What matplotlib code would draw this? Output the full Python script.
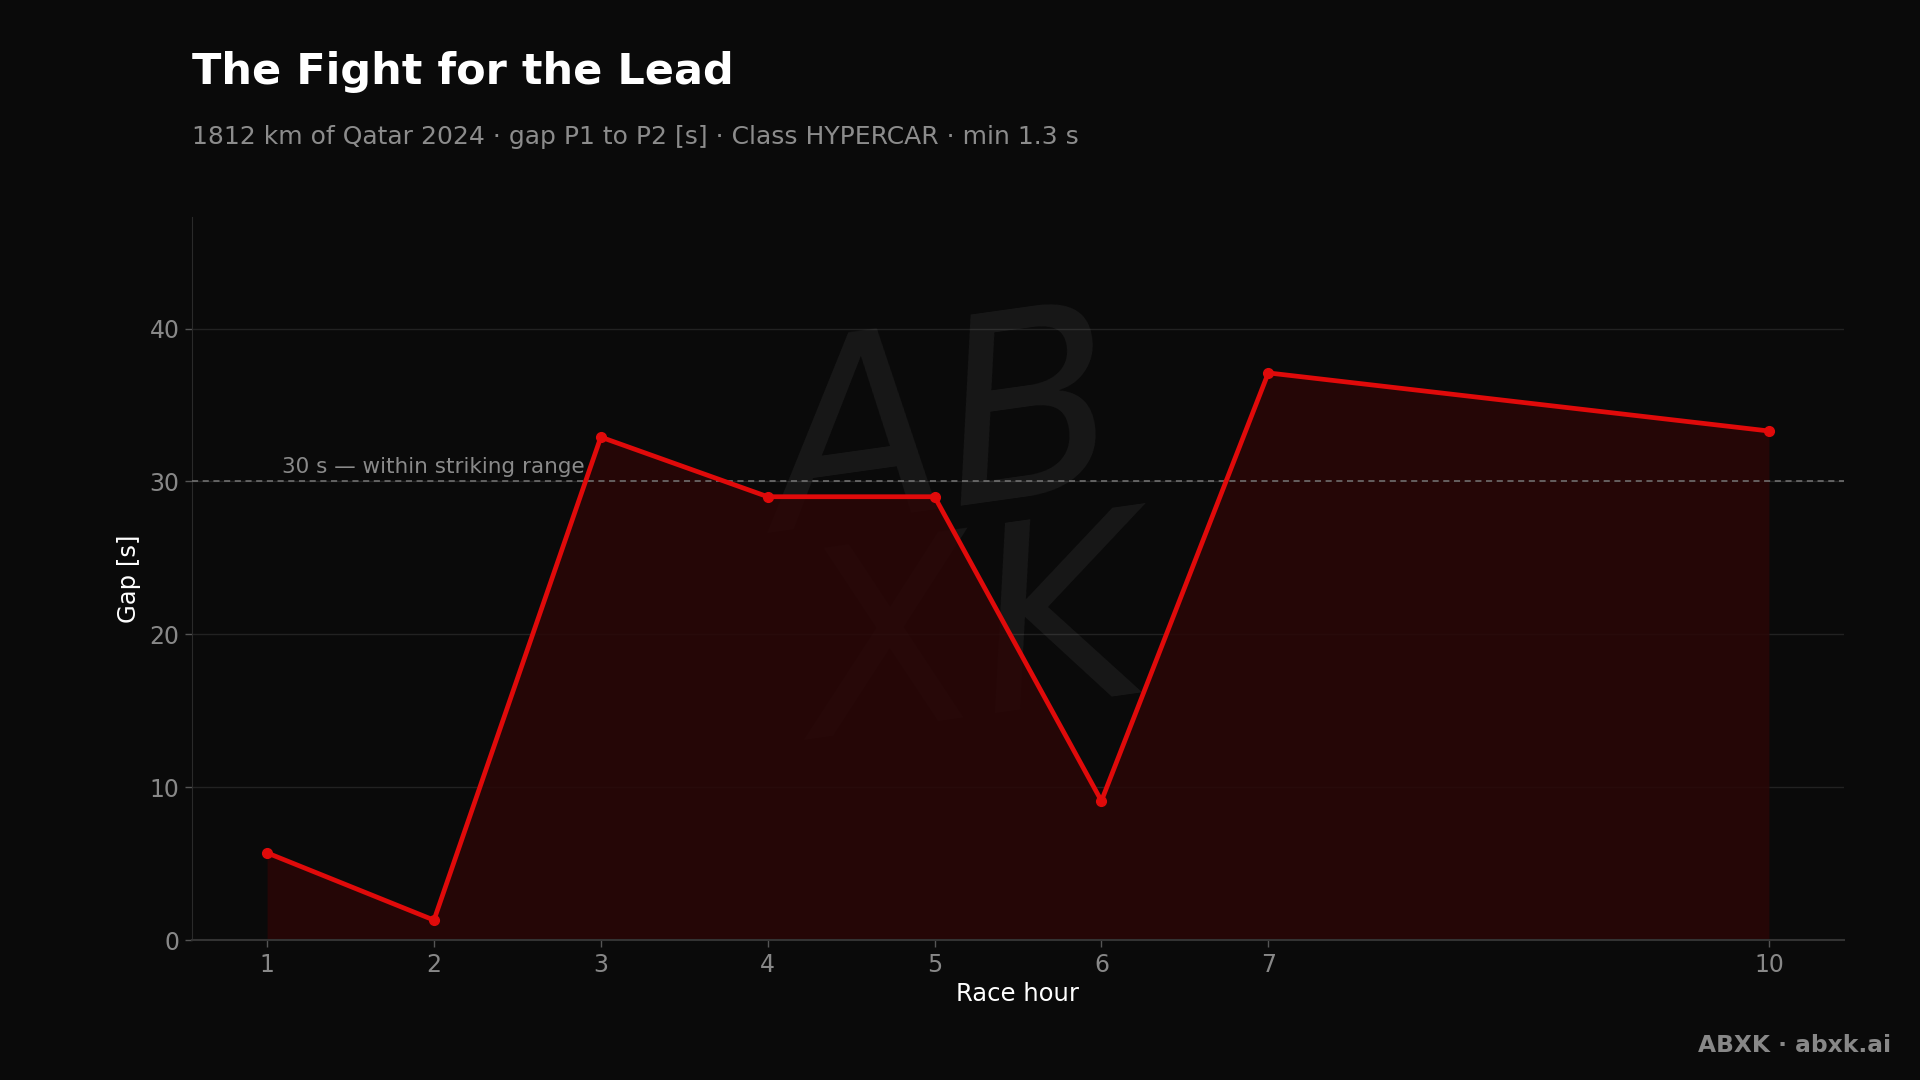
import matplotlib
matplotlib.use("Agg")
import matplotlib.pyplot as plt

# Data
hours = [1, 2, 3, 4, 5, 6, 7, 10]
gap_s = [5.7, 1.3, 32.9, 29.0, 29.0, 9.1, 37.1, 33.3]
y_ticks = [0, 10, 20, 30, 40]
threshold = 30

title = "The Fight for the Lead"
subtitle = "1812 km of Qatar 2024 · gap P1 to P2 [s] · Class HYPERCAR · min 1.3 s"
threshold_label = "30 s — within striking range"

BG = "#0a0a0a"
RED = "#e00a0a"

plt.rcParams['font.family'] = ['DejaVu Sans']
fig = plt.figure(figsize=(19.2, 10.8), dpi=100, facecolor=BG)
ax = fig.add_axes([192/1920, 1 - 940/1080, (1844-192)/1920, (940-217)/1080])
ax.set_facecolor(BG)

# watermark
ax.text(0.465, 0.55, "AB\nXK", transform=ax.transAxes, ha="center", va="center",
        fontsize=185, fontstyle="italic", color="#ffffff", alpha=0.06,
        rotation=8, linespacing=0.8, zorder=1)

ax.fill_between(hours, gap_s, 0, color="#2a0606", alpha=0.85, zorder=2, linewidth=0)
ax.plot(hours, gap_s, color=RED, lw=3.4, marker="o", ms=7, zorder=4, solid_joinstyle="round")

ax.axhline(threshold, color="#777777", lw=1.1, ls=(0, (4, 3)), zorder=3)
ax.text(1.09, threshold + 0.3, threshold_label, color="#8a8a8a", fontsize=15.5,
        ha="left", va="bottom", zorder=5)

ax.set_xlim(0.55, 10.45)
ax.set_ylim(0, 47.3)
ax.set_xticks(hours)
ax.set_yticks(y_ticks)
ax.grid(axis="y", color="#222222", lw=1)
ax.set_axisbelow(True)

for s in ["top", "right"]:
    ax.spines[s].set_visible(False)
ax.spines["left"].set_color("#2a2a2a")
ax.spines["bottom"].set_color("#333333")
ax.spines["bottom"].set_linewidth(1.5)
ax.tick_params(colors="#888888", labelsize=17, length=5, width=1, pad=4)
ax.tick_params(axis="both", color="#555555")

ax.set_xlabel("Race hour", color="#ffffff", fontsize=17.5, labelpad=4)
ax.set_ylabel("Gap [s]", color="#ffffff", fontsize=17.5, labelpad=6)

fig.text(192/1920, 1 - 72/1080, title, color="#ffffff", fontsize=31, fontweight="bold",
         ha="left", va="center")
fig.text(192/1920, 1 - 137/1080, subtitle, color="#8c8c8c", fontsize=18,
         ha="left", va="center")
fig.text(1891/1920, 1 - 1045/1080, "ABXK · abxk.ai", color="#888888", fontsize=16.8,
         fontweight="bold", ha="right", va="center")

fig.savefig("out.png", dpi=100, facecolor=BG)
